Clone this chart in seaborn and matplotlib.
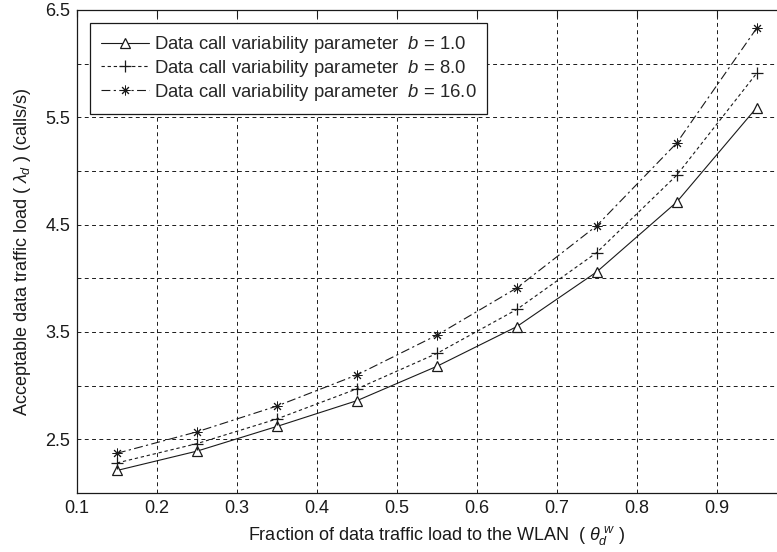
import numpy as np
import pandas as pd
import matplotlib
matplotlib.use('Agg')
import matplotlib.pyplot as plt
import seaborn as sns

# data
theta = [0.15, 0.25, 0.35, 0.45, 0.55, 0.65, 0.75, 0.85, 0.95]
load_b1 = [2.21, 2.39, 2.62, 2.86, 3.18, 3.55, 4.06, 4.71, 5.59]
load_b8 = [2.28, 2.46, 2.69, 2.97, 3.30, 3.71, 4.24, 4.96, 5.91]
load_b16 = [2.37, 2.57, 2.81, 3.10, 3.47, 3.91, 4.49, 5.26, 6.33]
b_labels = ['1.0', '8.0', '16.0']
x_ticks = [0.1, 0.2, 0.3, 0.4, 0.5, 0.6, 0.7, 0.8, 0.9]
y_ticks = [2.0, 2.5, 3.0, 3.5, 4.0, 4.5, 5.0, 5.5, 6.0, 6.5]
y_ticklabels = ['', '2.5', '', '3.5', '', '4.5', '', '5.5', '', '6.5']

sns.set_theme(style='white')
plt.rcParams['font.family'] = ['Liberation Sans', 'DejaVu Sans']
plt.rcParams['mathtext.fontset'] = 'custom'
plt.rcParams['mathtext.rm'] = 'Liberation Sans'
plt.rcParams['mathtext.it'] = 'Liberation Sans:italic'

fig = plt.figure(figsize=(7.77, 5.52), dpi=100)
# axes run past the right edge, as in the cropped original
ax = fig.add_axes([77 / 777, 59 / 552, 719.6 / 777, 483 / 552])

styles = [
    (load_b1, '^', '-', 7.5, 0.9),
    (load_b8, '+', (0, (3, 2.5)), 9, 0.9),
    (load_b16, (8, 2, 0), (0, (8, 3, 2, 3)), 7, 0.7),
]
for (vals, mk, ls, ms, mew), b in zip(styles, b_labels):
    sns.lineplot(x=theta, y=vals, ax=ax, color='k', lw=0.8, linestyle=ls,
                 marker=mk, markersize=ms, markerfacecolor='white',
                 markeredgecolor='k', markeredgewidth=mew,
                 label='Data call variability parameter  $b$ = ' + b)

ax.set_xlim(0.1, 1.0)
ax.set_ylim(2.0, 6.5)
ax.set_xticks(x_ticks)
ax.set_xticklabels([f'{t:.1f}' for t in x_ticks])
ax.set_yticks(y_ticks)
ax.set_yticklabels(y_ticklabels)
ax.grid(True, color='k', lw=0.7, linestyle=(0, (4, 3.5)))
ax.tick_params(direction='in', length=5, width=0.8, labelsize=13,
               top=True, right=True, colors='k', pad=5)
for s in ax.spines.values():
    s.set_color('k')
    s.set_linewidth(0.9)

ax.set_xlabel(r'Fraction of data traffic load to the WLAN  ( $\theta_d^{\ w}$ )',
              fontsize=13, color='k', labelpad=5)
ax.set_ylabel(r'Acceptable data traffic load ( $\lambda_d$ ) (calls/s)',
              fontsize=13, color='k', labelpad=9)

leg = ax.legend(loc='upper left', fontsize=13.3, frameon=True, fancybox=False,
                framealpha=1, edgecolor='k', handlelength=2.6,
                handletextpad=0.25, labelspacing=0.15, borderpad=0.6,
                borderaxespad=0.7)
leg.get_frame().set_linewidth(0.9)

fig.savefig('out.png', dpi=100)
